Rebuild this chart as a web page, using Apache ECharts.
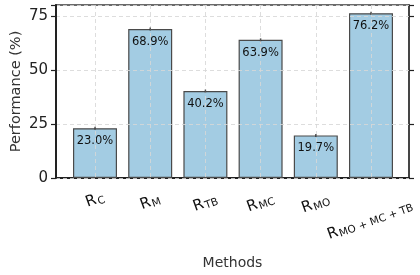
<!DOCTYPE html>
<html>
<head>
<meta charset="utf-8">
<script src="https://cdn.jsdelivr.net/npm/echarts@6/dist/echarts.min.js"></script>
<style>
  html, body { margin: 0; padding: 0; background: #fff; }
  #main { width: 420px; height: 275px; }
</style>
</head>
<body>
<div id="main"></div>
<script>
// 数据
let methodSubs = ['C', 'M', 'TB', 'MC', 'MO', 'MO + MC + TB'];
let performance = [23.0, 68.9, 40.2, 63.9, 19.7, 76.2];
let yTicks = [0, 25, 50, 75];
// extra downward shift of each rotated tick label (px), like matplotlib's rotated bbox
let labelDrop = [0, 2, 3, 3, 4, 20];

let myChart = echarts.init(document.getElementById('main'));

let font = 'DejaVu Sans';
let gridLine = { color: 'rgba(215,215,215,0.85)', type: [4, 3], width: 1 };
let rot = 20 * Math.PI / 180;

let categoryData = methodSubs.map(function (s, i) {
    let sy = labelDrop[i];
    let sx = i === methodSubs.length - 1 ? -1 : 0;
    let dx = sx * Math.cos(rot) - sy * Math.sin(rot);
    let dy = sx * Math.sin(rot) + sy * Math.cos(rot);
    return {
        value: s,
        textStyle: {
            align: 'center', verticalAlign: 'middle',
            padding: [Math.max(0, 2 * dy), Math.max(0, -2 * dx), 0, Math.max(0, 2 * dx)]
        }
    };
});

myChart.setOption({
    animation: false,
    textStyle: { fontFamily: font },
    grid: [
        // frame
        { left: 56, right: 11, top: 5, bottom: 97, show: true, borderColor: '#3a3a3a', borderWidth: 1.5, outerBoundsMode: 'none', containLabel: false },
        // bars
        { left: 95, right: 49, top: 5, bottom: 97, outerBoundsMode: 'none', containLabel: false }
    ],
    xAxis: [
        {
            gridIndex: 0, type: 'value', min: 0, max: 1,
            axisLine: { show: true, lineStyle: { color: '#222', width: 2 } },
            axisTick: { show: false }, axisLabel: { show: false }, splitLine: { show: false },
            name: 'Methods', nameLocation: 'middle', nameGap: 78, nameMoveOverlap: false,
            nameTextStyle: { fontSize: 14, color: '#333', fontFamily: font }
        },
        {
            gridIndex: 1, type: 'category', boundaryGap: false,
            data: categoryData, z: 3,
            axisLine: { show: false }, axisTick: { show: false },
            splitLine: { show: true, lineStyle: gridLine },
            axisLabel: {
                interval: 0, rotate: 20, margin: 22, align: 'center', verticalAlign: 'middle',
                formatter: function (v) { return '{r|R}{s|' + v + '}'; },
                rich: {
                    r: { fontSize: 15, color: '#111', fontFamily: font, verticalAlign: 'bottom' },
                    s: { fontSize: 10.5, color: '#111', fontFamily: font, verticalAlign: 'bottom', padding: [0, 0, -1, 1] }
                }
            }
        }
    ],
    yAxis: [
        {
            gridIndex: 0, type: 'value', min: 0, max: 80, interval: 25,
            axisLine: { show: true, lineStyle: { color: '#222', width: 2 } },
            axisTick: { show: true, inside: false, length: 5, lineStyle: { color: '#222', width: 1.2 } },
            axisLabel: {
                fontSize: 15, color: '#222', margin: 8, fontFamily: font,
                formatter: function (v) { return yTicks.indexOf(v) >= 0 ? String(v) : ''; }
            },
            splitLine: { show: true, lineStyle: gridLine },
            name: 'Performance (%)', nameLocation: 'middle', nameGap: 32, nameMoveOverlap: false,
            nameTextStyle: { fontSize: 14.5, color: '#333', fontFamily: font },
            z: 3
        },
        {
            gridIndex: 0, type: 'value', min: 0, max: 80, interval: 25, position: 'right',
            axisLine: { show: true, lineStyle: { color: '#3a3a3a', width: 1.5 } },
            axisTick: { show: true, inside: false, length: 5, lineStyle: { color: '#222', width: 1.2 } },
            axisLabel: { show: false }, splitLine: { show: false }
        },
        {
            gridIndex: 1, type: 'value', min: 0, max: 80, show: false
        }
    ],
    series: [
        {
            type: 'bar',
            xAxisIndex: 1, yAxisIndex: 2,
            data: performance,
            barWidth: 44,
            itemStyle: { color: '#a3cce3', borderColor: '#4a4a4a', borderWidth: 1.2 },
            label: {
                show: true, position: 'insideTop', distance: 7,
                fontSize: 11.5, color: '#111', fontFamily: font,
                formatter: function (p) { return p.value.toFixed(1) + '%'; }
            }
        },
        {
            // zero-size error caps at bar tops
            type: 'scatter',
            xAxisIndex: 1, yAxisIndex: 2,
            data: performance,
            symbol: 'rect', symbolSize: [1.5, 3],
            itemStyle: { color: '#333' },
            z: 4
        }
    ]
});
</script>
</body>
</html>
